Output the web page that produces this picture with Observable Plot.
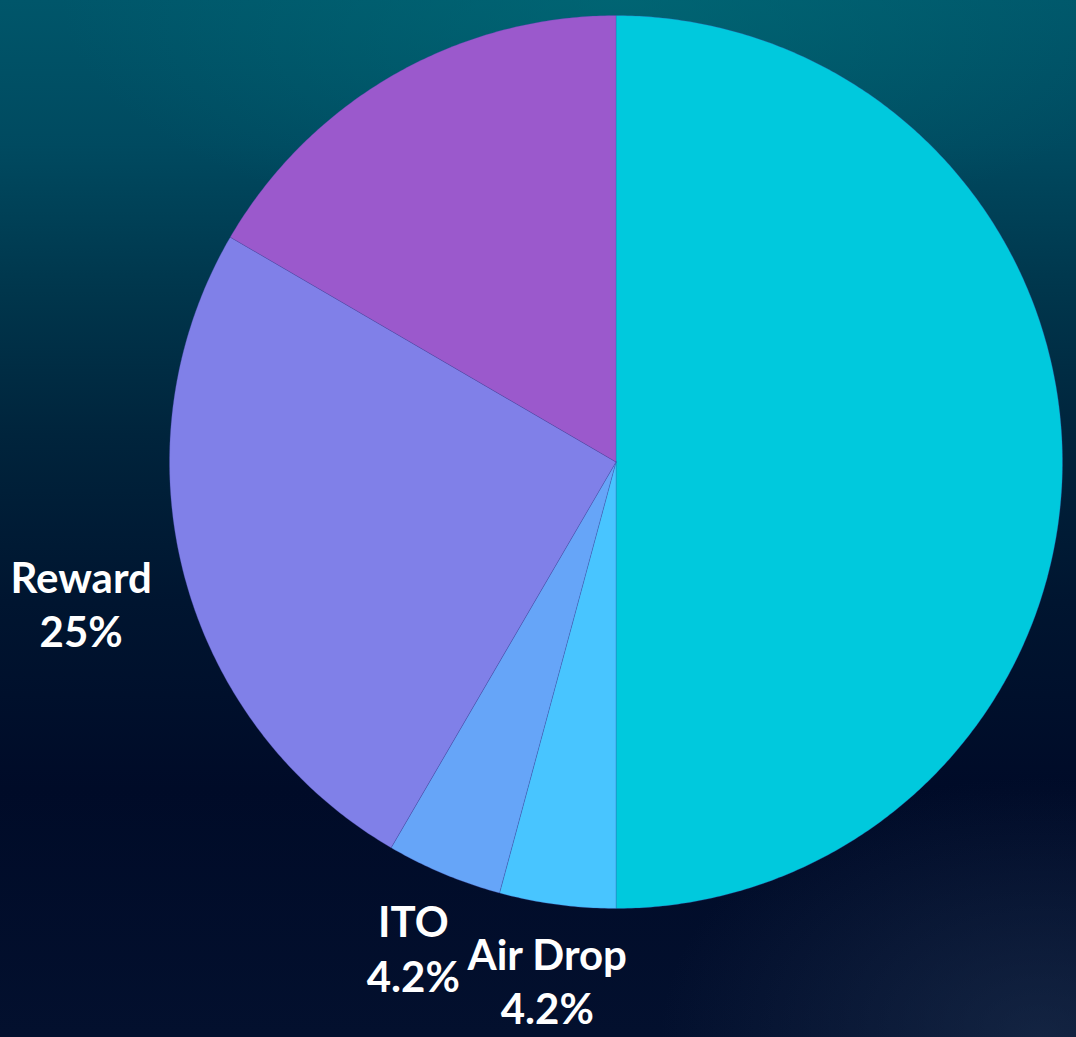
<!DOCTYPE html>
<html>
<head>
<meta charset="utf-8">
<script src="https://cdn.jsdelivr.net/npm/d3@7"></script>
<script src="https://cdn.jsdelivr.net/npm/@observablehq/plot@0.6"></script>
<style>
  html, body { margin: 0; padding: 0; }
  body {
    width: 1076px; height: 1037px; overflow: hidden;
    background:
      radial-gradient(ellipse 380px 260px at 1040px 1037px, rgba(35,55,85,0.5), rgba(35,55,85,0) 100%),
      radial-gradient(ellipse 560px 240px at 620px 0px, rgba(0,112,122,0.55), rgba(0,112,122,0) 100%),
      linear-gradient(to bottom, #00566a 0%, #004a60 14%, #00364c 28%, #00243c 42%, #001530 58%, #000b28 76%, #03102e 100%);
  }
  #chart svg { display: block; }
</style>
</head>
<body>
<div id="chart"></div>
<script>
// Data
const categories = ["Slice A", "Air Drop", "ITO", "Reward", "Slice E"];
const values = [50, 4.2, 4.2, 25, 16.6];
const valueLabels = [null, "4.2%", "4.2%", "25%", null];
const showLabel = [false, true, true, true, false];
const sliceColors = ["#00c9dd", "#48c5ff", "#66a5f8", "#8080e8", "#9b59cc"];

const table = categories.map((name, i) => ({name, value: values[i], vlabel: valueLabels[i], show: showLabel[i]}));
const arcs = d3.pie().sort(null).value(d => d.value)(table);

// Polygon points for each slice (unit radius, angle 0 at top, clockwise)
const pts = [];
for (const a of arcs) {
  const n = Math.max(2, Math.ceil((a.endAngle - a.startAngle) / (Math.PI / 360)));
  pts.push({name: a.data.name, x: 0, y: 0});
  for (let k = 0; k <= n; k++) {
    const t = a.startAngle + (a.endAngle - a.startAngle) * k / n;
    pts.push({name: a.data.name, x: Math.sin(t), y: Math.cos(t)});
  }
  pts.push({name: a.data.name, x: 0, y: 0});
}

// Label layout: the label box sits just outside a ring at 1.075 r
const fontSize = 42, lineH = 1.29, fontFamily = "Lato, 'Noto Sans', sans-serif";
const radiusPx = 446.5;
const ctx = document.createElement("canvas").getContext("2d");
ctx.font = `700 ${fontSize}px ${fontFamily}`;
const labelData = arcs.filter(a => a.data.show).map(a => {
  const m = (a.startAngle + a.endAngle) / 2;
  const sx = Math.sin(m), sy = Math.cos(m);
  const lines = [a.data.name, a.data.vlabel];
  const hw = d3.max(lines, l => ctx.measureText(l).width) / 2;
  const hh = (fontSize * lineH * (lines.length - 1) + fontSize * 0.72) / 2;
  const off = Math.min(hw / Math.max(Math.abs(sx), 1e-6), hh / Math.max(Math.abs(sy), 1e-6));
  const r = 1.075 + off / radiusPx;
  return {x: r * sx, y: r * sy, text: lines.join("\n")};
});

const chart = Plot.plot({
  width: 1076,
  height: 1037,
  marginLeft: 169,
  marginRight: 14,
  marginTop: 15,
  marginBottom: 129,
  style: {background: "transparent", overflow: "hidden"},
  x: {domain: [-1, 1], axis: null},
  y: {domain: [-1, 1], axis: null},
  color: {domain: categories, range: sliceColors},
  marks: [
    Plot.line(pts, {x: "x", y: "y", z: "name", fill: "name", stroke: "rgba(70,70,170,0.35)", strokeWidth: 0.8, curve: "linear"}),
    Plot.text(labelData, {
      x: "x", y: "y", text: "text",
      fill: "white", fontSize, fontWeight: 700,
      fontFamily,
      lineHeight: lineH
    })
  ]
});
document.getElementById("chart").appendChild(chart);
</script>
</body>
</html>
